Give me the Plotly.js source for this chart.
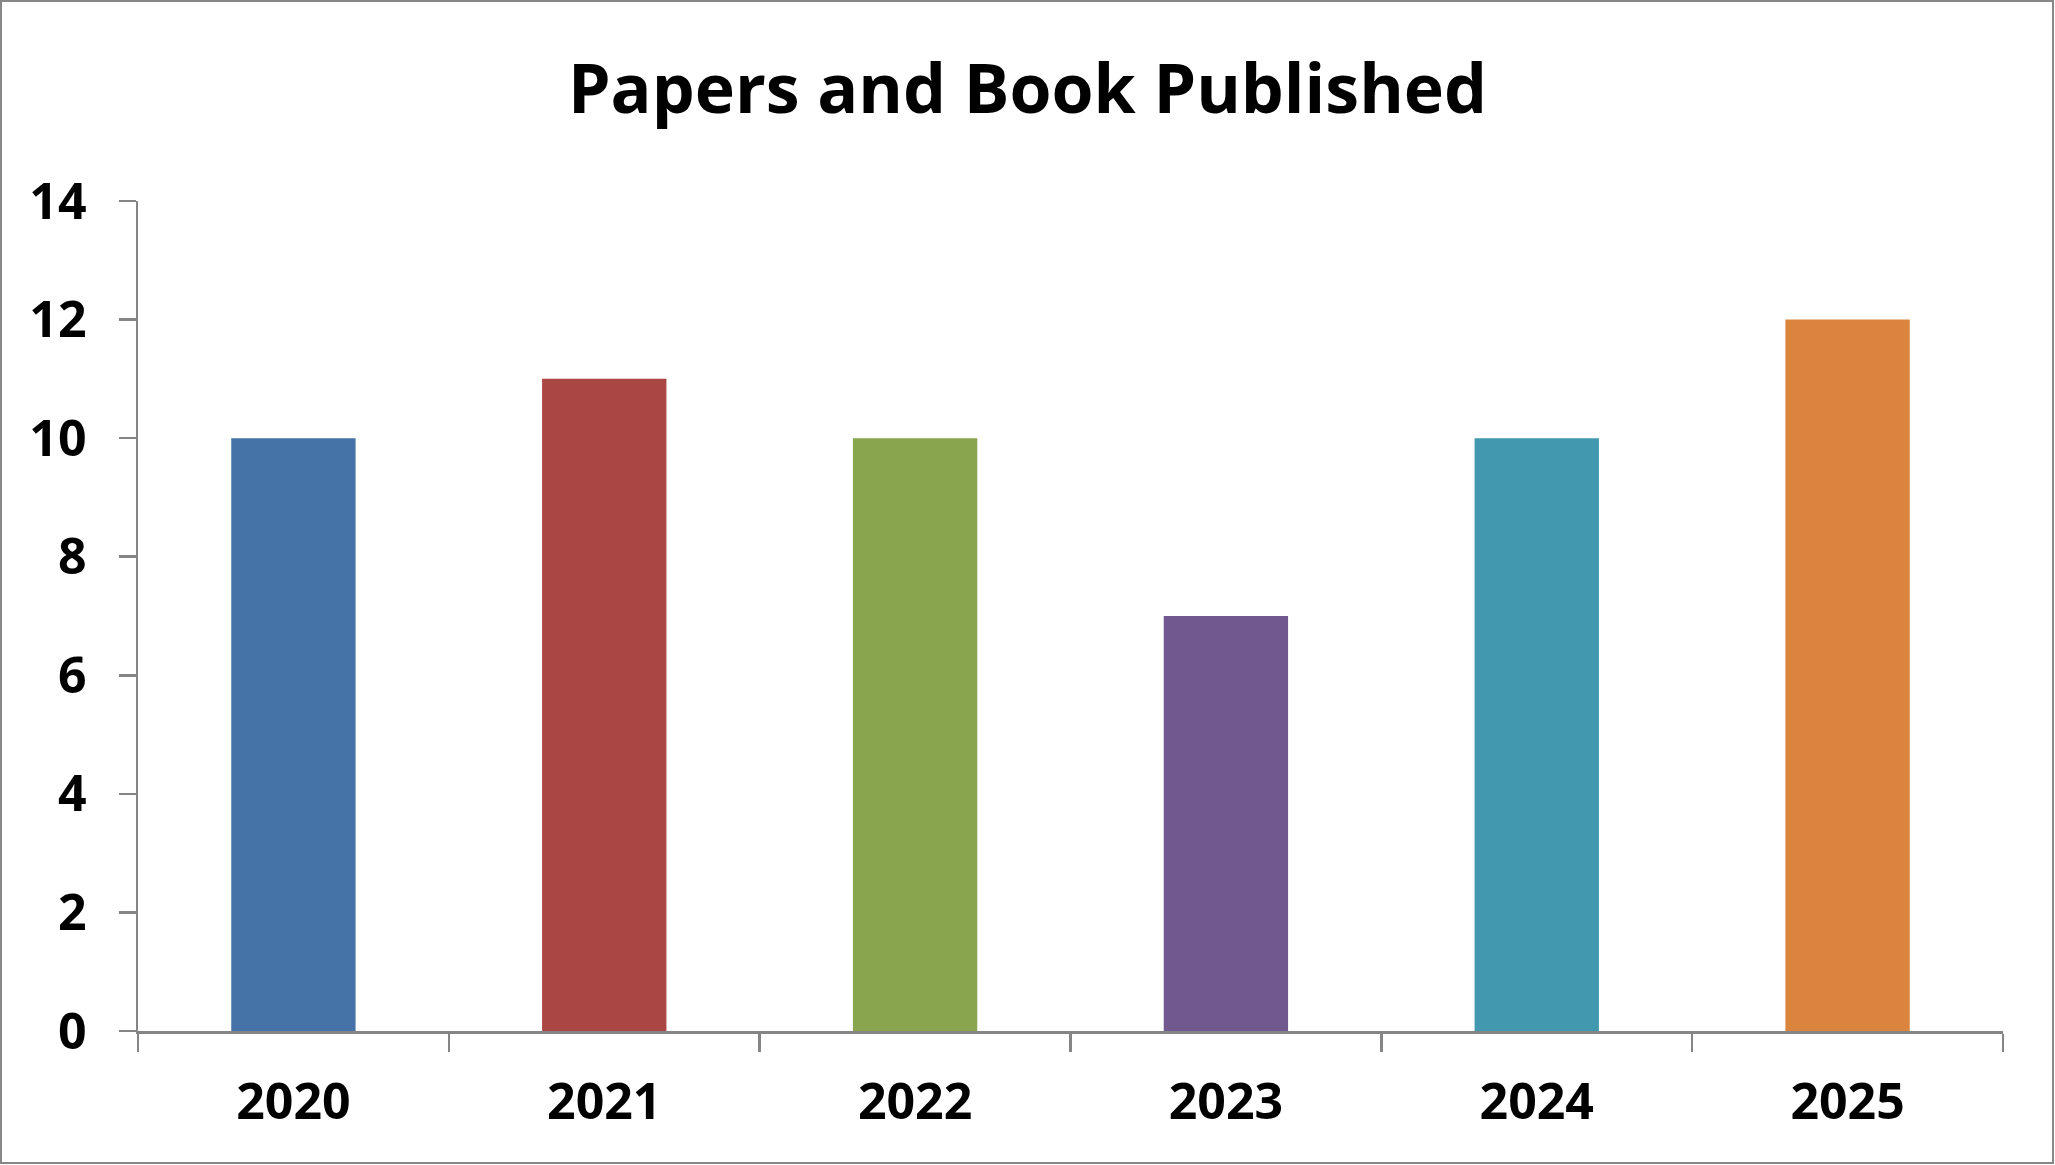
<!DOCTYPE html>
<html>
<head>
<meta charset="utf-8">
<script src="https://cdn.plot.ly/plotly-3.0.1.min.js"></script>
<style>
  html, body { margin: 0; padding: 0; background: #ffffff; }
  #wrap { position: relative; width: 2055px; height: 1165px; }
  #chart { width: 2055px; height: 1165px; }
  #frame { position: absolute; left: 0; top: 0; width: 2054px; height: 1164px;
           box-sizing: border-box; border: 2px solid #878787; pointer-events: none; }
</style>
</head>
<body>
<div id="wrap">
  <div id="chart"></div>
  <div id="frame"></div>
</div>
<script>
// ---- Data ----
const years = ['2020', '2021', '2022', '2023', '2024', '2025'];
const papers = [10, 11, 10, 7, 10, 12];
const barColors = ['#4572A7', '#AA4643', '#89A54E', '#71588F', '#4198AF', '#DB843D'];
const yTickVals = [0, 2, 4, 6, 8, 10, 12, 14];
const chartTitle = 'Papers and Book Published';

// ---- Styles ----
const FONT = "'Open Sans', 'Liberation Sans', sans-serif";
const AXIS_GRAY = '#858585';

const trace = {
  type: 'bar',
  x: years,
  y: papers,
  marker: { color: barColors, line: { width: 0 } },
  hoverinfo: 'x+y'
};

const layout = {
  width: 2055,
  height: 1165,
  paper_bgcolor: '#ffffff',
  plot_bgcolor: '#ffffff',
  margin: { l: 138, r: 52, t: 201, b: 134, pad: 0 },
  bargap: 0.6,
  showlegend: false,
  title: {
    text: chartTitle,
    font: { family: FONT, size: 68, weight: 700, color: '#000000' },
    xref: 'container', x: 0.5, xanchor: 'center',
    yref: 'container', y: 1 - 89 / 1165, yanchor: 'middle'
  },
  xaxis: {
    type: 'category',
    tickson: 'boundaries',
    ticks: 'outside',
    ticklen: 18,
    tickwidth: 2.5,
    tickcolor: AXIS_GRAY,
    showline: true,
    linecolor: AXIS_GRAY,
    linewidth: 2.5,
    showgrid: false,
    zeroline: false,
    ticklabelstandoff: 25,
    tickfont: { family: FONT, size: 50, weight: 700, color: '#000000' }
  },
  yaxis: {
    range: [0, 14],
    tickmode: 'array',
    tickvals: yTickVals,
    ticktext: yTickVals.map(String),
    ticks: 'outside',
    ticklen: 17,
    tickwidth: 2.5,
    tickcolor: AXIS_GRAY,
    showline: true,
    linecolor: AXIS_GRAY,
    linewidth: 2.5,
    showgrid: false,
    zeroline: false,
    ticklabelstandoff: 22,
    tickfont: { family: FONT, size: 50, weight: 700, color: '#000000' }
  }
};

Plotly.newPlot('chart', [trace], layout, { displayModeBar: false, staticPlot: true });
</script>
</body>
</html>
